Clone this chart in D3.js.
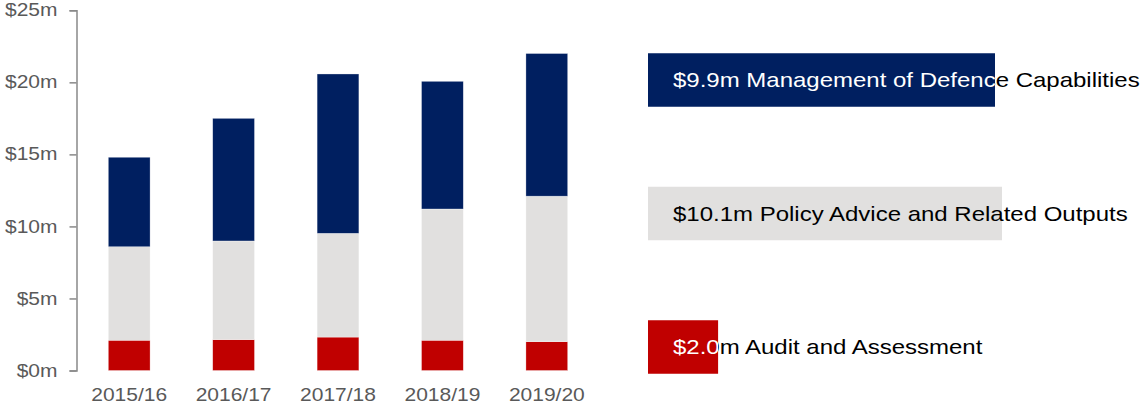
<!doctype html>
<html>
<head>
<style>
  body { margin: 0; background: #fff; }
  text { font-family: "Liberation Sans", Arial, sans-serif; }
  .axis path, .axis line { fill: none; stroke: #898989; stroke-width: 1.5; }
  .axis text { fill: #595959; font-size: 17.5px; }
  .legend text { font-size: 20px; }
</style>
<script src="https://d3js.org/d3.v7.min.js"></script>
</head>
<body>
<svg width="1140" height="405"></svg>
<script>
// data ($m)
var years = ["2015/16", "2016/17", "2017/18", "2018/19", "2019/20"];
var audit = [2.1, 2.14, 2.32, 2.1, 2.0];
var policy = [6.49, 6.85, 7.2, 9.11, 10.1];
var management = [6.21, 8.51, 11.06, 8.86, 9.9];
var yTicks = [0, 5, 10, 15, 20, 25];

var keys = ["audit", "policy", "management"];
var names = {
    audit: "Audit and Assessment",
    policy: "Policy Advice and Related Outputs",
    management: "Management of Defence Capabilities"
};
var colors = { audit: "#C00000", policy: "#E1E0DF", management: "#001F60" };
var insideText = { audit: "#fff", policy: "#000", management: "#fff" };

// text in the reference is a bit wider than normal
var stretch = 1.2;

var rows = years.map(function(y, i) {
    return { year: y, audit: audit[i], policy: policy[i], management: management[i] };
});

var svg = d3.select("svg");

var x = d3.scaleBand().domain(years).range([77, 599]).paddingInner(0.6).paddingOuter(0.3);
var y = d3.scaleLinear().domain([0, 25]).range([370.5, 10.3]);

var stack = d3.stack().keys(keys)(rows);

svg.append("g").selectAll("g")
   .data(stack)
   .enter().append("g")
   .attr("fill", function(d) { return colors[d.key]; })
   .selectAll("rect")
   .data(function(d) { return d; })
   .enter().append("rect")
   .attr("x", function(d) { return x(d.data.year); })
   .attr("y", function(d) { return y(d[1]); })
   .attr("width", x.bandwidth())
   .attr("height", function(d) { return y(d[0]) - y(d[1]); })
   .attr("stroke", "#fff")
   .attr("stroke-opacity", 0.5)
   .attr("stroke-width", 0.6);

// y axis
var yAxis = svg.append("g")
   .attr("class", "axis")
   .attr("transform", "translate(76.5,0)")
   .call(d3.axisLeft(y).tickValues(yTicks).tickSize(7).tickSizeOuter(7)
        .tickFormat(function(d) { return "$" + d + "m"; }));
yAxis.selectAll("text")
   .attr("x", -19 / stretch)
   .attr("transform", "scale(" + stretch + ",1)");

// x axis labels only
var xAxis = svg.append("g")
   .attr("class", "axis")
   .attr("transform", "translate(0,370.5)")
   .call(d3.axisBottom(x).tickSize(0).tickPadding(18));
xAxis.select(".domain").remove();
xAxis.selectAll("text").attr("transform", "scale(" + stretch + ",1)");

// legend: bar length proportional to 2019/20 value
var last = rows[rows.length - 1];
var legendKeys = keys.slice().reverse();
var lx = d3.scaleLinear().domain([0, 10]).range([648, 998.5]);
var ly = d3.scalePoint().domain(legendKeys).range([80, 347]);
var boxH = 53.5;

var legend = svg.append("g").attr("class", "legend")
   .selectAll("g")
   .data(legendKeys)
   .enter().append("g");

// inside / outside clips so the label changes colour at the box edge
legend.append("clipPath")
   .attr("id", function(d) { return "in-" + d; })
   .append("rect")
   .attr("x", lx(0))
   .attr("y", 0)
   .attr("width", function(d) { return lx(last[d]) - lx(0); })
   .attr("height", 405);

legend.append("clipPath")
   .attr("id", function(d) { return "out-" + d; })
   .append("rect")
   .attr("x", function(d) { return lx(last[d]); })
   .attr("y", 0)
   .attr("width", 1140)
   .attr("height", 405);

legend.append("rect")
   .attr("x", lx(0))
   .attr("y", function(d) { return ly(d) - boxH / 2; })
   .attr("width", function(d) { return lx(last[d]) - lx(0); })
   .attr("height", boxH)
   .attr("fill", function(d) { return colors[d]; });

function label(d) { return "$" + last[d].toFixed(1) + "m " + names[d]; }
function place(d) { return "translate(673," + (ly(d) + 7) + ") scale(" + stretch + ",1)"; }

legend.append("g")
   .attr("clip-path", function(d) { return "url(#out-" + d + ")"; })
   .append("text")
   .attr("transform", place)
   .attr("fill", "#000")
   .text(label);

legend.append("g")
   .attr("clip-path", function(d) { return "url(#in-" + d + ")"; })
   .append("text")
   .attr("transform", place)
   .attr("fill", function(d) { return insideText[d]; })
   .text(label);
</script>
</body>
</html>
